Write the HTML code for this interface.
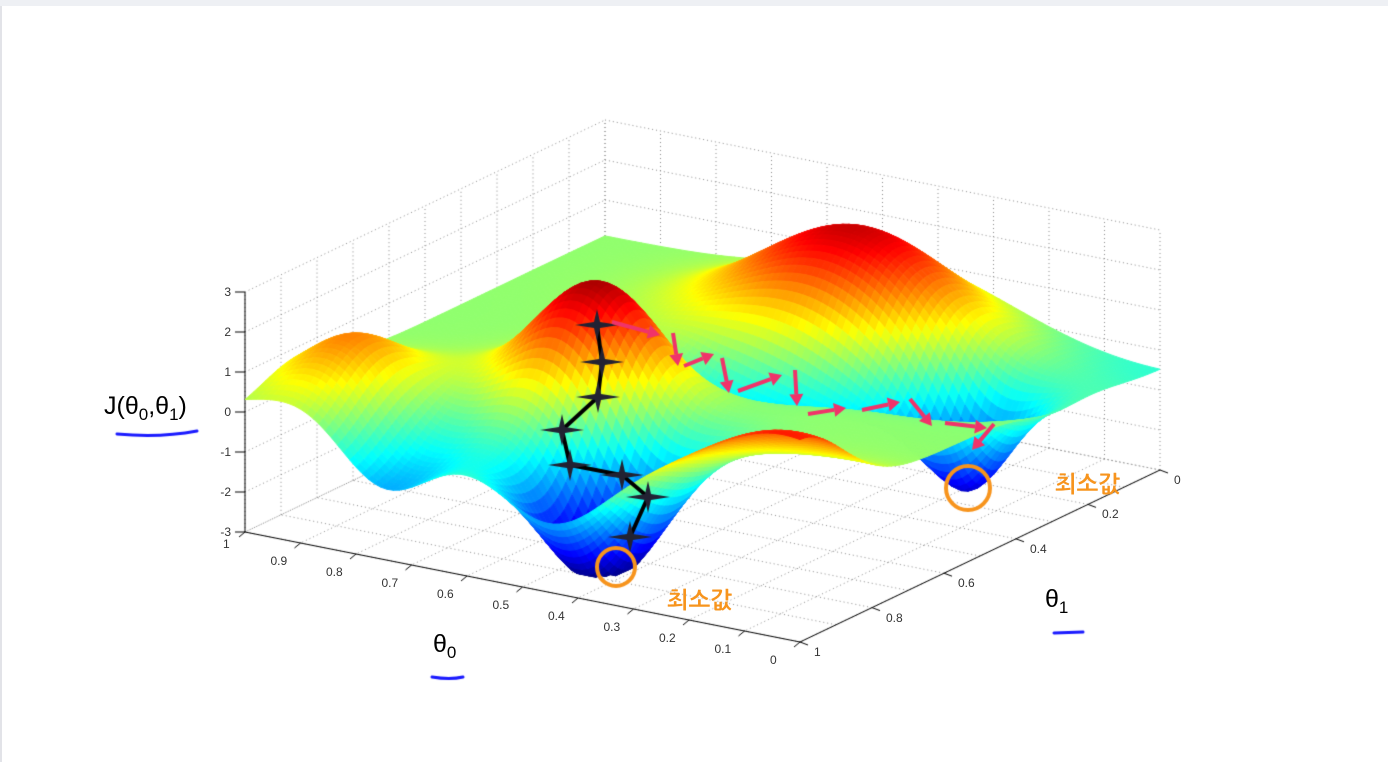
<!DOCTYPE html><html><head><meta charset="utf-8"><style>
html,body{margin:0;padding:0;background:#fff;width:1388px;height:762px;overflow:hidden;position:relative;font-family:"Liberation Sans","NanumGothic",sans-serif}
#top{position:absolute;left:0;top:0;width:1388px;height:6px;background:#eef0f4}
#lb{position:absolute;left:0;top:6px;width:2px;height:756px;background:#e2e3e8}
canvas{position:absolute;left:0;top:0}
.t{position:absolute;font-size:12px;color:#333;line-height:12px}
.o{position:absolute;color:#f7941d;font-weight:bold;font-size:23px;font-family:"NanumGothic","Noto Sans CJK KR",sans-serif}
.b{position:absolute;font-size:25px;color:#000}
</style></head><body>
<div id="top"></div><div id="lb"></div>
<canvas id="c" width="1388" height="762"></canvas>
<div id="labels"></div>
<div class="b" style="left:104px;top:392px">J(θ<sub style="font-size:17px">0</sub>,θ<sub style="font-size:17px">1</sub>)</div>
<div class="b" style="left:433px;top:630px">θ<sub style="font-size:17px">0</sub></div>
<div class="b" style="left:1045px;top:585px">θ<sub style="font-size:17px">1</sub></div>
<div class="o" style="left:667px;top:590px">최소값</div>
<div class="o" style="left:1055px;top:474px">최소값</div>
<script>
const c=document.getElementById('c').getContext('2d');
const F=[800,642],a=[-555,-110],b=[360,-172];
function P(u,v,z){const w=1-v;return [F[0]+u*a[0]+w*b[0],F[1]+u*a[1]+w*b[1]-(z+3)*40];}
function g(u,v,cu,cv,su,sv){return Math.exp(-((u-cu)*(u-cu)/(2*su*su)+(v-cv)*(v-cv)/(2*sv*sv)));}
function seg(u,v,x0,y0,x1,y1,s){const dx=x1-x0,dy=y1-y0;let t=((u-x0)*dx+(v-y0)*dy)/(dx*dx+dy*dy);t=Math.max(0,Math.min(1,t));const ex=u-x0-t*dx,ey=v-y0-t*dy;return Math.exp(-(ex*ex+ey*ey)/(2*s*s));}
function Z(u,v){let z=0.1+2.8*g(u,v,0.6,0.64,0.1,0.1)+2.5*g(u,v,0.44,0.17,0.16,0.12)-3.6*g(u,v,0.45,0.85,0.09,0.11)-1.6*g(u,v,0.15,0.3,0.07,0.07)-1.3*seg(u,v,0.5,0.45,0.17,0.3,0.07)+1.5*g(u,v,0.9,0.85,0.08,0.1)+2*g(u,v,0.03,1,0.15,0.12)-1.4*g(u,v,0.75,1,0.08,0.15)-0.6*g(u,v,0,0,0.2,0.2);return Math.max(-3,Math.min(3,z));}
function jet(t){t=Math.max(0,Math.min(1,t));const r=Math.min(1,Math.max(0,1.5-Math.abs(4*t-3))),gg=Math.min(1,Math.max(0,1.5-Math.abs(4*t-2))),bb=Math.min(1,Math.max(0,1.5-Math.abs(4*t-1)));return `rgb(${r*255|0},${gg*255|0},${bb*255|0})`;}
c.strokeStyle='#888';c.lineWidth=1;c.setLineDash([1,3]);
function L(p,q){c.beginPath();c.moveTo(p[0],p[1]);c.lineTo(q[0],q[1]);c.stroke();}
for(let i=0;i<=10;i++){const t=i/10;
 L(P(1,t,-3),P(1,t,3)); L(P(t,0,-3),P(t,0,3));
 L(P(t,0,-3),P(t,1,-3)); L(P(0,t,-3),P(1,t,-3));}
for(let z=-3;z<=3;z++){L(P(1,1,z),P(1,0,z));L(P(1,0,z),P(0,0,z));}
c.setLineDash([]);
c.strokeStyle='#000';L(P(1,1,-3),P(1,1,3));L(P(1,1,-3),P(0,1,-3));L(P(0,1,-3),P(0,0,-3));
for(let z=-3;z<=3;z++){const p=P(1,1,z);L(p,[p[0]-10,p[1]]);}
for(let i=0;i<=10;i++){const p=P(i/10,1,-3);L(p,[p[0]-6,p[1]+5]);}
for(let i=0;i<=5;i++){const p=P(0,i/5,-3);L(p,[p[0]+8,p[1]+3]);}
const N=90,qs=[];
for(let i=0;i<N;i++)for(let j=0;j<N;j++){const u0=i/N,u1=(i+1)/N,v0=j/N,v1=(j+1)/N;
 const z=[Z(u0,v0),Z(u1,v0),Z(u1,v1),Z(u0,v1)];const pts=[P(u0,v0,z[0]),P(u1,v0,z[1]),P(u1,v1,z[2]),P(u0,v1,z[3])];
 const gy=P((u0+u1)/2,(v0+v1)/2,-3)[1];qs.push([gy,pts,(z[0]+z[1]+z[2]+z[3])/4]);}
qs.sort((x,y)=>x[0]-y[0]);
for(const q of qs){c.fillStyle=jet((q[2]+3)/6);c.strokeStyle=c.fillStyle;c.beginPath();c.moveTo(...q[1][0]);for(let k=1;k<4;k++)c.lineTo(...q[1][k]);c.closePath();c.fill();c.stroke();}
const pts=[[597,325],[602,362],[598,397],[562,430],[570,465],[622,475],[648,497],[630,537]];
c.strokeStyle='#000';c.lineWidth=4;c.beginPath();c.moveTo(...pts[0]);pts.forEach(p=>c.lineTo(...p));c.stroke();
c.fillStyle='#223';for(const p of pts){c.beginPath();c.moveTo(p[0]-22,p[1]);c.lineTo(p[0]-3,p[1]-3);c.lineTo(p[0],p[1]-16);c.lineTo(p[0]+3,p[1]-3);c.lineTo(p[0]+22,p[1]);c.lineTo(p[0]+3,p[1]+3);c.lineTo(p[0],p[1]+16);c.lineTo(p[0]-3,p[1]+3);c.closePath();c.fill();}
const ar=[[612,322,660,335],[673,333,678,366],[684,366,714,354],[722,358,729,393],[738,391,782,375],[795,370,797,406],[808,414,846,408],[862,410,900,402],[910,399,932,426],[945,423,987,428],[994,424,972,450]];
c.strokeStyle=c.fillStyle='#f0336a';c.lineWidth=4;
for(const [x0,y0,x1,y1] of ar){const an=Math.atan2(y1-y0,x1-x0);const bx=x1-12*Math.cos(an),by=y1-12*Math.sin(an);
 L([x0,y0],[bx,by]);c.beginPath();c.moveTo(x1,y1);c.lineTo(bx+7*Math.sin(an),by-7*Math.cos(an));c.lineTo(bx-7*Math.sin(an),by+7*Math.cos(an));c.closePath();c.fill();}
c.strokeStyle='#f7941d';c.lineWidth=4;
c.beginPath();c.arc(616,567,19,0,7);c.stroke();c.beginPath();c.arc(968,488,22,0,7);c.stroke();
c.strokeStyle='#1a1aff';c.lineWidth=3;c.lineCap='round';
c.beginPath();c.moveTo(117,434);c.quadraticCurveTo(160,438,197,431);c.stroke();
c.beginPath();c.moveTo(432,677);c.quadraticCurveTo(450,680,463,677);c.stroke();
c.beginPath();c.moveTo(1054,633);c.lineTo(1083,632);c.stroke();
let h='';
for(let z=-3;z<=3;z++){const p=P(1,1,z);h+=`<div class="t" style="left:${p[0]-32}px;top:${p[1]-6}px;width:18px;text-align:right">${z}</div>`;}
const t0=['0','0.1','0.2','0.3','0.4','0.5','0.6','0.7','0.8','0.9','1'];
for(let i=0;i<=10;i++){const p=P(i/10,1,-3);h+=`<div class="t" style="left:${p[0]-(i==10?22:30)}px;top:${p[1]+(i==10?6:12)}px">${t0[i]}</div>`;}
const t1=['0','0.2','0.4','0.6','0.8','1'];
for(let i=0;i<=5;i++){const p=P(0,i/5,-3);h+=`<div class="t" style="left:${p[0]+14}px;top:${p[1]+4}px">${t1[i]}</div>`;}
document.getElementById('labels').innerHTML=h;
</script></body></html>
